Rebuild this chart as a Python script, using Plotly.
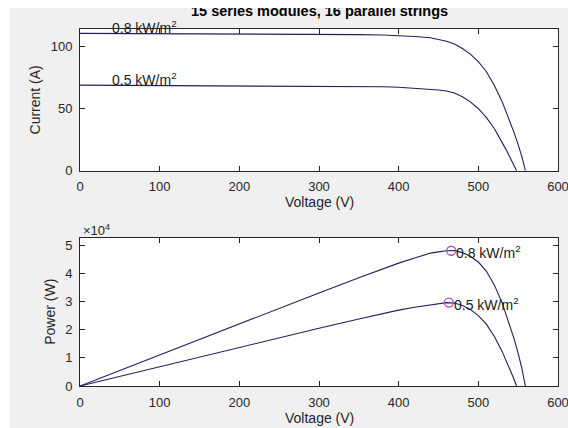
import plotly.graph_objects as go
from plotly.subplots import make_subplots

# ---- data ----
v_08 = [0, 50, 100, 150, 200, 250, 300, 350, 380, 400, 420, 440, 450, 460, 470, 480, 490, 500, 510, 520, 530, 540, 545, 550, 555, 559]
i_08 = [110.8, 110.7, 110.6, 110.5, 110.4, 110.3, 110.1, 109.8, 109.4, 109.0, 108.2, 107.2, 105.8, 104.4, 102.2, 98.6, 94.0, 88.0, 80.0, 69.0, 55.5, 39.5, 30.5, 21.0, 10.5, 0]
p_08 = [0, 5535, 11060, 16575, 22080, 27575, 33030, 38430, 41572, 43600, 45444, 47168, 47610, 48024, 48034, 47328, 46060, 44000, 40800, 35880, 29415, 21330, 16623, 11550, 5828, 0]

v_05 = [0, 50, 100, 150, 200, 250, 300, 350, 380, 400, 420, 440, 450, 460, 470, 480, 490, 500, 510, 520, 530, 535, 540, 545, 548]
i_05 = [69.0, 68.9, 68.8, 68.7, 68.6, 68.5, 68.3, 68.0, 67.7, 67.3, 66.6, 65.7, 65.1, 64.3, 62.6, 59.6, 55.5, 50.0, 43.0, 34.0, 23.0, 16.8, 10.5, 4.2, 0]
p_05 = [0, 3445, 6880, 10305, 13720, 17125, 20490, 23800, 25726, 26920, 27972, 28908, 29295, 29578, 29422, 28608, 27195, 25000, 21930, 17680, 12190, 8988, 5670, 2289, 0]

mpp_v = [466, 463]
mpp_p = [48000, 29600]
labels = ["0.8 kW/m<sup>2</sup>", "0.5 kW/m<sup>2</sup>"]
iv_label_v = [38, 38]
iv_label_i = [110.8, 69.0]

title = "15 series modules, 16 parallel strings"
x_title = "Voltage (V)"
x_ticks = [0, 100, 200, 300, 400, 500, 600]
i_ticks = [0, 50, 100]
p_ticks = [0, 10000, 20000, 30000, 40000, 50000]
p_ticktext = ["0", "1", "2", "3", "4", "5"]

# ---- styling ----
LINE = "#1f1f5c"
AX = "#262626"
FONT = "Liberation Sans, Arial, sans-serif"
W, H = 568, 428
ML, MR, MT, MB = 80, 10, 29, 42
PH = H - MT - MB
PW = W - ML - MR

def py(ypx):
    return (H - MB - ypx) / PH

def px(xpx):
    return (xpx - ML) / PW

fig = make_subplots(rows=2, cols=1, vertical_spacing=0.0)

fig.add_trace(go.Scatter(x=v_08, y=i_08, mode="lines", line=dict(color=LINE, width=1.1), showlegend=False), row=1, col=1)
fig.add_trace(go.Scatter(x=v_05, y=i_05, mode="lines", line=dict(color=LINE, width=1.1), showlegend=False), row=1, col=1)
fig.add_trace(go.Scatter(x=v_08, y=p_08, mode="lines", line=dict(color=LINE, width=1.1), showlegend=False), row=2, col=1)
fig.add_trace(go.Scatter(x=v_05, y=p_05, mode="lines", line=dict(color=LINE, width=1.1), showlegend=False), row=2, col=1)
fig.add_trace(go.Scatter(x=mpp_v, y=mpp_p, mode="markers",
                         marker=dict(symbol="circle-open", size=9, color="#b44cc0", line=dict(width=1.3)),
                         showlegend=False), row=2, col=1)

axis_common = dict(
    showline=True, linecolor=AX, linewidth=1, mirror="ticks",
    ticks="inside", ticklen=5, tickcolor=AX, tickwidth=1,
    showgrid=False, zeroline=False, automargin=False,
    tickfont=dict(family=FONT, size=13, color=AX),
    ticklabelstandoff=4, ticklabeloverflow="allow",
)

fig.update_xaxes(**axis_common, range=[0, 600], tickvals=x_ticks)
fig.update_yaxes(**axis_common)
fig.update_yaxes(range=[0, 114.3], tickvals=i_ticks, row=1, col=1,
                 title=dict(text="Current (A)", font=dict(family=FONT, size=14, color=AX), standoff=6))
fig.update_yaxes(range=[0, 52700], tickvals=p_ticks, ticktext=p_ticktext, row=2, col=1,
                 title=dict(text="Power (W)", font=dict(family=FONT, size=14, color=AX), standoff=6))

fig.update_layout(
    xaxis=dict(domain=[0, 1]),
    yaxis=dict(domain=[py(170.7), 1.0]),
    xaxis2=dict(domain=[0, 1]),
    yaxis2=dict(domain=[0, py(237.5)]),
)

annotations = []
# IV curve labels
for vx, iy, t in zip(iv_label_v, iv_label_i, labels):
    annotations.append(dict(x=vx, y=iy, xref="x", yref="y", text=t, showarrow=False,
                            xanchor="left", yanchor="bottom", yshift=-5,
                            font=dict(family=FONT, size=14, color="#1a1a1a")))
# PV MPP labels
for vx, pyv, t in zip(mpp_v, mpp_p, labels):
    annotations.append(dict(x=vx, y=pyv, xref="x2", yref="y2", text=t, showarrow=False,
                            xanchor="left", yanchor="middle", xshift=3, yshift=-1,
                            font=dict(family=FONT, size=14, color="#1a1a1a")))
# x-axis titles
for ycen in (202, 418):
    annotations.append(dict(x=px(319), y=py(ycen), xref="paper", yref="paper", text=x_title,
                            showarrow=False, xanchor="center", yanchor="middle",
                            font=dict(family=FONT, size=14, color=AX)))
# exponent label
annotations.append(dict(x=px(81), y=py(240), xref="paper", yref="paper", text="\u00d710<sup>4</sup>",
                        showarrow=False, xanchor="left", yanchor="bottom",
                        font=dict(family=FONT, size=13, color=AX)))
# title
annotations.append(dict(x=px(319), y=py(11), xref="paper", yref="paper", text="<b>" + title + "</b>",
                        showarrow=False, xanchor="center", yanchor="middle",
                        font=dict(family=FONT, size=14.5, color="#000000")))
# white strip covering the top of the image (cropped page edge)
annotations.append(dict(x=px(284), y=py(0), xref="paper", yref="paper", text="&nbsp;",
                        showarrow=False, xanchor="center", yanchor="top",
                        width=600, height=8, bgcolor="white", borderpad=0, borderwidth=0,
                        font=dict(size=5, color="white")))

fig.update_layout(
    width=W, height=H,
    margin=dict(l=ML, r=MR, t=MT, b=MB, autoexpand=False),
    paper_bgcolor="#f0f0f0",
    plot_bgcolor="white",
    font=dict(family=FONT, color=AX),
    annotations=annotations,
    shapes=[dict(type="rect", xref="paper", yref="paper",
                 x0=px(-5), x1=px(10), y0=py(440), y1=py(0),
                 fillcolor="white", line=dict(width=0), layer="above")],
)

fig.write_html("out.html", config=dict(displayModeBar=False, staticPlot=True))
